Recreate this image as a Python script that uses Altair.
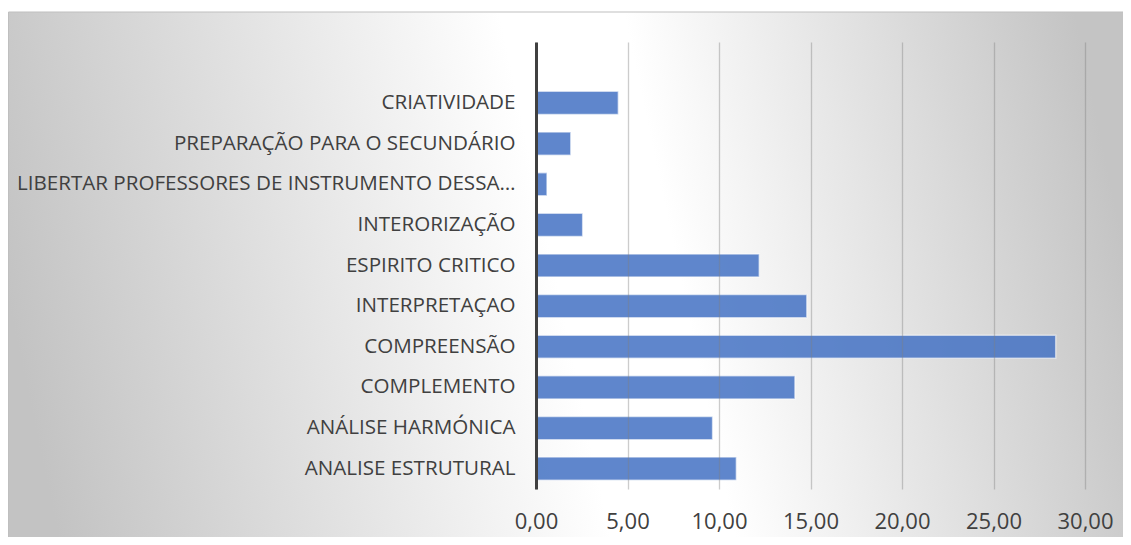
import altair as alt
import pandas as pd

# Data (top to bottom as shown in the chart)
categories = [
    "CRIATIVIDADE",
    "PREPARAÇÃO PARA O SECUNDÁRIO",
    "LIBERTAR PROFESSORES DE INSTRUMENTO DESSA…",
    "INTERORIZAÇÃO",
    "ESPIRITO CRITICO",
    "INTERPRETAÇAO",
    "COMPREENSÃO",
    "COMPLEMENTO\u00a0",
    "ANÁLISE HARMÓNICA",
    "ANALISE ESTRUTURAL",
]
values = [4.5, 1.9, 0.6, 2.55, 12.2, 14.8, 28.4, 14.15, 9.65, 10.95]
x_ticks = [0, 5, 10, 15, 20, 25, 30]

df = pd.DataFrame({"categoria": categories, "valor": values})
y_domain = [""] + categories  # empty category slot at top, as in the original

W, H = 549, 447
PAD = {"left": 528, "top": 34, "right": 38, "bottom": 48}

gradient = alt.LinearGradient(
    gradient="linear",
    x1=0, y1=0.55, x2=1, y2=0.45,
    stops=[
        alt.GradientStop(color="#c3c3c3", offset=0),
        alt.GradientStop(color="#ffffff", offset=0.49),
        alt.GradientStop(color="#ffffff", offset=0.60),
        alt.GradientStop(color="#c4c4c4", offset=1),
    ],
)

bg = alt.Chart(alt.Data(values=[{}])).mark_rect(
    fill=gradient, stroke="#bfbfbf", strokeWidth=1
).encode(
    x=alt.value(-PAD["left"] + 0.5),
    x2=alt.value(W + PAD["right"] + 2),
    y=alt.value(-30),
    y2=alt.value(H + PAD["bottom"] + 2),
)

bars = alt.Chart(df).mark_bar(
    color="#4472C4", opacity=0.85, stroke="#ffffff", strokeOpacity=0.6, strokeWidth=1.5
).encode(
    x=alt.X(
        "valor:Q",
        scale=alt.Scale(domain=[0, 30], nice=False),
        axis=alt.Axis(
            values=x_ticks,
            labelExpr="replace(format(datum.value, '.2f'), '.', ',')",
            grid=True, gridColor="#808080", gridOpacity=0.4, gridWidth=1.3,
            domain=False, ticks=False, labelPadding=22, labelFontSize=22,
            labelFlush=False, labelOverlap=False,
            title=None, zindex=1,
        ),
    ),
    y=alt.Y(
        "categoria:N",
        scale=alt.Scale(domain=y_domain, paddingInner=0.43, paddingOuter=0.215),
        axis=alt.Axis(
            title=None, ticks=False, domainColor="#404040", domainWidth=3,
            labelPadding=21, labelFontSize=20.6, labelLimit=0, grid=False, zindex=2,
        ),
    ),
)

chart = alt.layer(bg, bars).properties(
    width=W, height=H, padding=PAD, autosize="none", background="white"
).configure_view(stroke=None).configure_axis(
    labelFont="Open Sans", labelColor="#404040"
)

chart.save("out.html", embed_options={"renderer": "svg", "actions": False})
